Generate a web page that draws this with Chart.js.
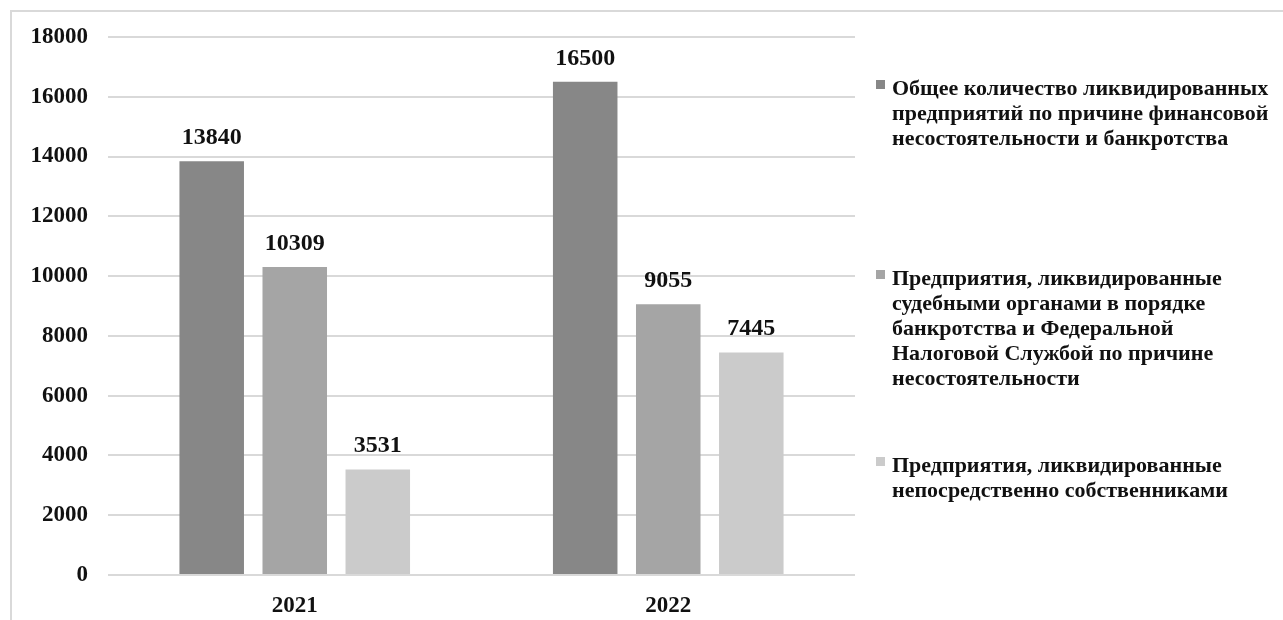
<!DOCTYPE html>
<html>
<head>
<meta charset="utf-8">
<script src="https://cdn.jsdelivr.net/npm/chart.js@4"></script>
<style>
  body { margin: 0; background: #fff; overflow: hidden; }
  #frame { position: absolute; left: 10px; top: 10px; width: 1400px; height: 700px;
           border: 2px solid #d9d9d9; box-sizing: border-box; }
  #wrap { position: absolute; left: 0; top: 0; width: 1283px; height: 620px; }
  #legenda { position: absolute; left: 0; top: 0; }
  .item { position: absolute; left: 892px; font: bold 22px "Liberation Serif", "Times New Roman", serif;
          line-height: 25px; color: #111; white-space: nowrap; }
  .item span { position: absolute; left: -16px; top: 5px; width: 9px; height: 9px; }
</style>
</head>
<body>
<div id="frame"></div>
<div id="wrap">
  <canvas id="grafico" width="1283" height="620"></canvas>
  <div id="legenda"></div>
</div>
<script>
const anos = ['2021', '2022'];

const serie_total = [13840, 16500];
const serie_judicial = [10309, 9055];
const serie_donos = [3531, 7445];

const nomes_series = [
    ['Общее количество ликвидированных', 'предприятий  по причине финансовой', 'несостоятельности и банкротства'],
    ['Предприятия, ликвидированные', 'судебными органами в порядке', 'банкротства  и Федеральной', 'Налоговой Службой по причине', 'несостоятельности'],
    ['Предприятия, ликвидированные', 'непосредственно собственниками']
];

const cores = ['#878787', '#a5a5a5', '#cbcbcb'];
const topos_legenda = [75, 265, 452];

const fonte = { family: '"Liberation Serif", "Times New Roman", serif', size: 23, weight: 'bold' };

// escreve o valor em cima de cada barra
const rotulos = {
    id: 'rotulos',
    afterDatasetsDraw(chart) {
        const ctx = chart.ctx;
        ctx.save();
        ctx.font = 'bold 24px "Liberation Serif", "Times New Roman", serif';
        ctx.fillStyle = '#111';
        ctx.textAlign = 'center';
        ctx.textBaseline = 'alphabetic';
        chart.data.datasets.forEach((dataset, i) => {
            chart.getDatasetMeta(i).data.forEach((bar, j) => {
                ctx.fillText(dataset.data[j], bar.x, bar.y - 17);
            });
        });
        ctx.restore();
    }
};

const data = {
    labels: anos,
    datasets: [
        { label: nomes_series[0], data: serie_total, backgroundColor: cores[0] },
        { label: nomes_series[1], data: serie_judicial, backgroundColor: cores[1] },
        { label: nomes_series[2], data: serie_donos, backgroundColor: cores[2] }
    ]
};

const config = {
    type: 'bar',
    data: data,
    options: {
        responsive: false,
        animation: false,
        categoryPercentage: 0.667,
        barPercentage: 0.777,
        layout: { padding: { left: 0, top: 37, right: 428, bottom: 0 } },
        plugins: { legend: { display: false }, tooltip: { enabled: false } },
        scales: {
            x: {
                grid: { display: false },
                border: { display: false },
                ticks: { color: '#111', font: fonte, padding: 9 },
                afterFit(scale) { scale.height = 45; }
            },
            y: {
                min: 0,
                max: 18000,
                ticks: {
                    stepSize: 2000, color: '#111', font: fonte, padding: 20,
                    callback: (v) => String(v)
                },
                grid: { color: '#d9d9d9', lineWidth: 2, drawTicks: false },
                border: { display: false },
                afterFit(scale) { scale.width = 108; }
            }
        }
    },
    plugins: [rotulos]
};

const grafico = new Chart(document.getElementById('grafico'), config);

// legenda em html para poder quebrar as linhas
const legenda = document.getElementById('legenda');
grafico.data.datasets.forEach((ds, i) => {
    const div = document.createElement('div');
    div.className = 'item';
    div.style.top = topos_legenda[i] + 'px';
    div.innerHTML = '<span style="background:' + ds.backgroundColor + '"></span>' + ds.label.join('<br>');
    legenda.appendChild(div);
});
</script>
</body>
</html>
